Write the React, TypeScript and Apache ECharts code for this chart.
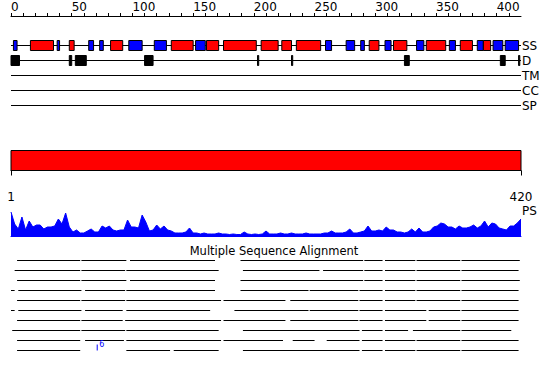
import React, { useEffect, useRef } from "react";
import * as echarts from "echarts";

const seqLength = 420;
const rulerLabels = [0, 50, 100, 150, 200, 250, 300, 350, 400];
const rulerTickStep = 10;
const scaleLabels = [1, 420];
const trackNames = ["SS", "D", "TM", "CC", "SP"];

const helices = [
  [16, 35], [48, 52], [82, 92], [132, 150], [161, 171], [175, 202], [206, 220],
  [223, 231], [235, 255], [295, 303], [315, 326], [342, 358], [370, 380], [389, 395],
];
const strands = [
  [2, 5], [38, 40], [64, 68], [73, 76], [97, 108], [118, 128], [152, 160], [259, 264],
  [276, 283], [288, 291], [308, 313], [334, 340], [361, 366], [384, 389], [397, 405], [407, 418],
];
const disorder = [
  [0, 7], [48, 50], [53, 62], [110, 117], [203, 204], [231, 232], [324, 328], [403, 407], [418, 419],
];
const domains = [[1, 420]];

const psStep = 3;
const psValues = [
  24, 12, 7, 19, 6, 15, 9, 11, 11, 7, 9, 9, 10, 17, 12, 23, 9, 4, 6, 3,
  3, 5, 7, 4, 4, 10, 8, 10, 6, 5, 6, 6, 16, 9, 9, 8, 21, 14, 5, 6,
  11, 7, 10, 6, 5, 3, 3, 3, 4, 8, 3, 3, 2, 3, 2, 2, 2, 3, 2, 2,
  1.5, 2, 1.5, 1.5, 4, 2, 1.5, 2, 1.5, 2, 5, 2, 2, 2, 3, 2, 2, 3, 2, 2,
  2, 3, 2, 2, 2, 2, 3, 3, 5, 3, 3, 3, 4, 7, 3, 3, 4, 5, 10, 5,
  5, 6, 5, 9, 6, 6, 4, 4, 3, 4, 7, 4, 8, 4, 4, 5, 9, 10, 13, 12,
  9, 9, 7, 10, 8, 8, 9, 11, 8, 10, 15, 9, 13, 12, 8, 7, 6, 10, 10, 13,
  17,
];

const msaRows = [
  [[5, 57], [58, 95], [98, 168], [189, 290], [291, 306], [308, 333], [334, 370], [371, 419]],
  [[3, 57], [58, 94], [95, 171], [191, 254], [257, 290], [291, 306], [308, 333], [334, 370], [371, 418]],
  [[5, 57], [58, 95], [98, 168], [189, 290], [291, 306], [308, 333], [334, 370], [371, 419]],
  [[0, 3], [6, 58], [61, 94], [95, 168], [189, 245], [246, 286], [287, 306], [308, 333], [334, 370], [371, 418]],
  [[5, 57], [58, 94], [95, 173], [175, 226], [230, 286], [287, 306], [308, 333], [334, 370], [371, 418]],
  [[0, 3], [6, 58], [61, 92], [95, 164], [184, 245], [246, 286], [287, 306], [308, 342], [344, 370], [371, 418]],
  [[5, 57], [58, 92], [94, 173], [175, 226], [230, 286], [287, 306], [308, 342], [344, 370], [371, 418]],
  [[1, 57], [58, 94], [95, 171], [191, 287], [289, 306], [308, 327], [331, 370], [371, 412]],
  [[5, 57], [61, 93], [95, 173], [175, 224], [232, 250], [260, 287], [289, 306], [308, 333], [334, 370], [371, 418]],
  [[5, 57], [95, 131], [134, 171], [191, 287], [289, 306], [308, 333], [334, 370], [371, 418]],
];
const msaInserts = [[9, 71, "6"]];

const FONT = "DejaVu Sans";

export default function App() {
  const ref = useRef<HTMLDivElement>(null);
  useEffect(() => {
    if (!ref.current) return;
    const chart = echarts.init(ref.current, null, { renderer: "svg" });

    const rulerTicks: number[] = [];
    for (let v = 0; v < seqLength; v += rulerTickStep) rulerTicks.push(v);

    const boxData: any[] = [];
    strands.forEach(([s, e]) => boxData.push([s, e, 0, 2]));
    helices.forEach(([s, e]) => boxData.push([s, e, 0, 1]));
    disorder.forEach(([s, e]) => boxData.push([s, e, 1, 3]));

    const msaData: any[] = [];
    msaRows.forEach((row, i) => row.forEach(([s, e]) => msaData.push([s, e, i])));

    const grid = { left: 11, width: 510 };
    const option: any = {
      animation: false,
      backgroundColor: "#fff",
      textStyle: { fontFamily: FONT },
      grid: [
        { ...grid, top: 15, height: 1 },
        { ...grid, top: 38, height: 75 },
        { ...grid, top: 150.5, height: 20 },
        { ...grid, top: 211, height: 25 },
        { ...grid, top: 255.5, height: 100 },
      ],
      xAxis: [
        {
          gridIndex: 0, type: "value", min: 0, max: seqLength, position: "top",
          axisLine: { show: true, lineStyle: { color: "#000", width: 1 } },
          axisTick: { show: true, customValues: rulerTicks, length: 3, lineStyle: { color: "#000" } },
          axisLabel: { customValues: rulerLabels, align: "left", margin: 2, fontSize: 12, color: "#000", fontFamily: FONT },
          splitLine: { show: false },
        },
        { gridIndex: 1, type: "value", min: 0, max: seqLength, show: false },
        {
          gridIndex: 2, type: "value", min: 1, max: seqLength, position: "bottom", offset: 12,
          axisLine: { show: true, lineStyle: { color: "#000", width: 1 } },
          axisTick: { show: true, customValues: scaleLabels, length: 5, lineStyle: { color: "#000" } },
          axisLabel: { customValues: scaleLabels, margin: 8, fontSize: 12, color: "#000", fontFamily: FONT },
          splitLine: { show: false },
        },
        {
          gridIndex: 3, type: "value", min: 0, max: seqLength,
          axisLine: { show: true, lineStyle: { color: "#0000ff", width: 1 } },
          axisTick: { show: false }, axisLabel: { show: false }, splitLine: { show: false },
        },
        { gridIndex: 4, type: "value", min: 0, max: seqLength, show: false },
      ],
      yAxis: [
        { gridIndex: 0, type: "value", show: false },
        {
          gridIndex: 1, type: "category", data: trackNames, inverse: true, position: "right",
          axisLine: { show: false }, axisTick: { show: false }, splitLine: { show: false },
          axisLabel: { interval: 0, hideOverlap: false, margin: 1, fontSize: 12, color: "#000", fontFamily: FONT },
        },
        { gridIndex: 2, type: "value", min: 0, max: 1, show: false },
        { gridIndex: 3, type: "value", min: 0, max: 25, show: false },
        { gridIndex: 4, type: "category", data: msaRows.map((_, i) => String(i + 1)), inverse: true, show: false },
      ],
      series: [
        {
          type: "custom", xAxisIndex: 1, yAxisIndex: 1,
          encode: { x: [0, 1], y: 2 },
          data: trackNames.map((_, i) => [0, seqLength, i]),
          renderItem: (params: any, api: any) => {
            const a = api.coord([api.value(0), api.value(2)]);
            const b = api.coord([api.value(1), api.value(2)]);
            return { type: "line", shape: { x1: a[0], y1: a[1], x2: b[0], y2: b[1] }, style: { stroke: "#000", lineWidth: 1 } };
          },
        },
        {
          type: "custom", xAxisIndex: 1, yAxisIndex: 1, z: 3,
          encode: { x: [0, 1], y: 2 },
          data: boxData,
          renderItem: (params: any, api: any) => {
            const a = api.coord([api.value(0), api.value(2)]);
            const b = api.coord([api.value(1), api.value(2)]);
            const k = api.value(3);
            const fill = k === 1 ? "#ff0000" : k === 2 ? "#0000ff" : "#000";
            return {
              type: "rect",
              shape: { x: a[0], y: a[1] - 5, width: Math.max(b[0] - a[0], 0.5), height: 10 },
              style: { fill, stroke: "#000", lineWidth: 1 },
            };
          },
        },
        {
          type: "custom", xAxisIndex: 2, yAxisIndex: 2,
          encode: { x: [0, 1] },
          data: domains,
          renderItem: (params: any, api: any) => {
            const a = api.coord([api.value(0), 1]);
            const b = api.coord([api.value(1), 0]);
            return {
              type: "rect",
              shape: { x: a[0], y: a[1], width: b[0] - a[0], height: b[1] - a[1] },
              style: { fill: "#ff0000", stroke: "#000", lineWidth: 1 },
            };
          },
        },
        {
          type: "line", xAxisIndex: 3, yAxisIndex: 3,
          data: psValues.map((v, i) => [i * psStep, v]),
          showSymbol: false, symbol: "none",
          lineStyle: { color: "#0000ff", width: 1 },
          areaStyle: { color: "#0000ff", opacity: 1 },
          itemStyle: { color: "#0000ff" },
        },
        {
          type: "custom", xAxisIndex: 4, yAxisIndex: 4,
          encode: { x: [0, 1], y: 2 },
          data: msaData,
          renderItem: (params: any, api: any) => {
            const a = api.coord([api.value(0), api.value(2)]);
            const b = api.coord([api.value(1), api.value(2)]);
            return { type: "line", shape: { x1: a[0], y1: a[1], x2: b[0], y2: b[1] }, style: { stroke: "#000", lineWidth: 1 } };
          },
        },
        {
          type: "custom", xAxisIndex: 4, yAxisIndex: 4,
          encode: { x: 1, y: 0 },
          data: msaInserts,
          renderItem: (params: any, api: any) => {
            const item = msaInserts[params.dataIndex];
            const p = api.coord([item[1], item[0]]);
            return {
              type: "group",
              children: [
                { type: "line", shape: { x1: p[0], y1: p[1] - 6, x2: p[0], y2: p[1] }, style: { stroke: "#0000ff", lineWidth: 1 } },
                { type: "text", style: { text: String(item[2]), x: p[0] + 2, y: p[1] - 2, textVerticalAlign: "bottom", fill: "#0000ff", font: "8px " + FONT } },
              ],
            };
          },
        },
      ],
      graphic: [
        { type: "text", style: { text: "PS", x: 522, y: 211, textVerticalAlign: "middle", fill: "#000", font: "12px " + FONT } },
        { type: "text", style: { text: "Multiple Sequence Alignment", x: 274, y: 251, textAlign: "center", textVerticalAlign: "middle", fill: "#000", font: "11.5px " + FONT } },
      ],
    };
    chart.setOption(option);
    return () => chart.dispose();
  }, []);
  return <div ref={ref} style={{ position: "absolute", left: 0, top: 0, width: 550, height: 380 }} />;
}
